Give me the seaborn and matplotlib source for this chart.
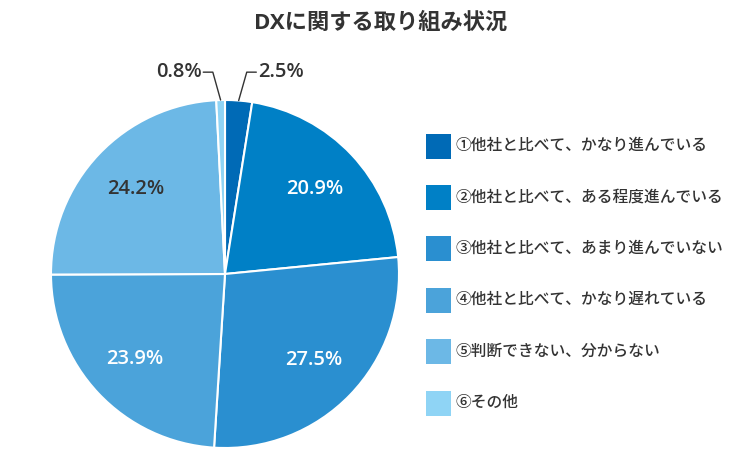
import numpy as np
import matplotlib
matplotlib.use("Agg")
import matplotlib.pyplot as plt
import seaborn as sns
from matplotlib.patches import Rectangle

categories = [
    "①他社と比べて、かなり進んでいる",
    "②他社と比べて、ある程度進んでいる",
    "③他社と比べて、あまり進んでいない",
    "④他社と比べて、かなり遅れている",
    "⑤判断できない、分からない",
    "⑥その他",
]
values = [2.5, 20.9, 27.5, 23.9, 24.2, 0.8]
pct_labels = ["2.5%", "20.9%", "27.5%", "23.9%", "24.2%", "0.8%"]
colors = ["#006ab6", "#0080c6", "#2a8fd0", "#4ba3da", "#6cb8e6", "#8fd4f5"]
title = "DXに関する取り組み状況"

sns.set_theme(style="white")
plt.rcParams["font.family"] = ["Open Sans", "Noto Sans CJK JP", "DejaVu Sans"]
TXT = "#333333"

W, H = 735, 462
fig = plt.figure(figsize=(W / 100, H / 100), dpi=100)
fig.patch.set_facecolor("white")

cx, cy, r = 225, 274, 174
ax = fig.add_axes([(cx - r) / W, (H - cy - r) / H, 2 * r / W, 2 * r / H])
wedges, _ = ax.pie(values, colors=colors, startangle=90, counterclock=False,
                   wedgeprops=dict(edgecolor="white", linewidth=1.5))
ax.set_xlim(-1, 1)
ax.set_ylim(-1, 1)
ax.set_aspect("equal")
ax.axis("off")

inner_colors = {1: "white", 2: "white", 3: "white", 4: TXT}
for i, w in enumerate(wedges):
    ang = np.deg2rad((w.theta1 + w.theta2) / 2)
    if i in inner_colors:
        d = 0.71
        ax.text(d * np.cos(ang), d * np.sin(ang), pct_labels[i], ha="center", va="center",
                fontsize=14.5, fontweight=600, color=inner_colors[i])
    else:
        x0, y0 = np.cos(ang), np.sin(ang)
        sgn = 1 if x0 > 0 else -1
        ey = 1.16
        ex = 0.125 * sgn if sgn > 0 else -0.07
        hx = ex + 0.055 * sgn
        ax.plot([x0, ex, hx], [y0, ey, ey], color=TXT, lw=1.0, clip_on=False)
        ax.text(hx + 0.01 * sgn, ey, pct_labels[i], ha="left" if sgn > 0 else "right",
                va="center", fontsize=14.5, fontweight=600, color=TXT)

fig.text(381 / W, 1 - 23 / H, title, ha="center", va="center", fontsize=16,
         fontweight="bold", color=TXT)

row0, step = 146, 51.4
for i, (lab, c) in enumerate(zip(categories, colors)):
    yc = row0 + i * step
    fig.patches.append(Rectangle((426 / W, 1 - (yc + 12.5) / H), 25 / W, 25 / H,
                                 transform=fig.transFigure, facecolor=c, edgecolor="none"))
    fig.text(456 / W, 1 - yc / H, lab, ha="left", va="center", fontsize=11.3,
             fontweight="medium", color=TXT)

fig.savefig("out.png", dpi=100, facecolor="white")
